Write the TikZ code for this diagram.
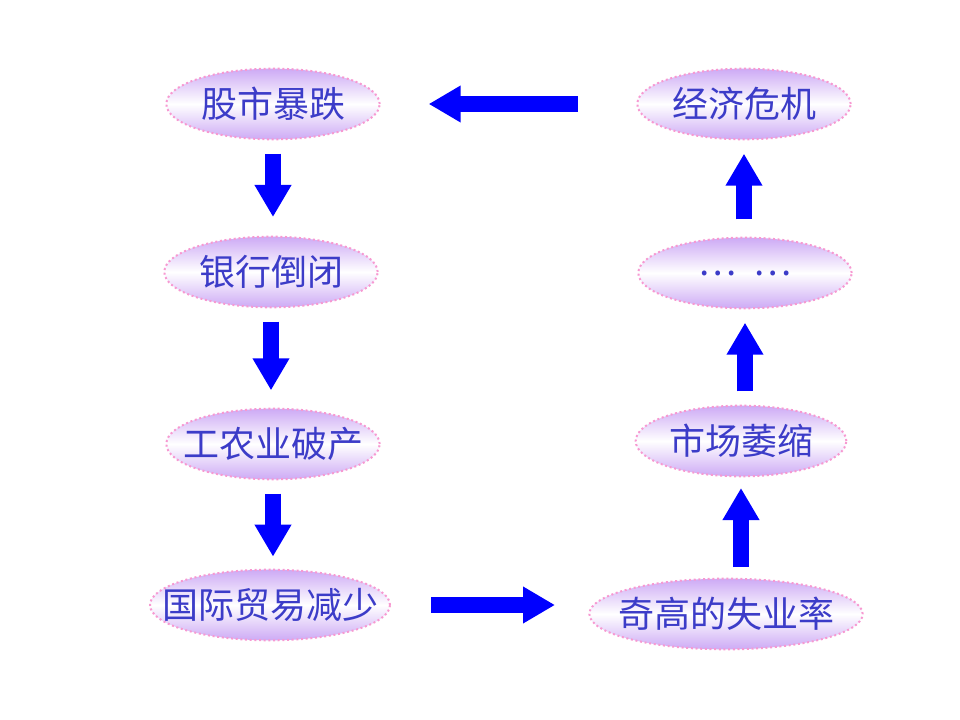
\documentclass[tikz,border=0pt]{standalone}
\usepackage{fontspec}
\newfontfamily\cjk{Noto Sans CJK SC}
\usetikzlibrary{shapes.geometric,arrows.meta}
\tikzset{every picture/.style={line width=0.75pt}}
\definecolor{bubtext}{RGB}{60,60,200}
\definecolor{bubfill}{RGB}{205,170,245}
\tikzset{
  bubble/.style={ellipse, draw=magenta!40, dotted, line width=1.5pt, top color=bubfill, bottom color=bubfill, middle color=white, minimum width=160pt, minimum height=53pt, inner ysep=0pt, inner xsep=-30pt, text=bubtext, font=\cjk\fontsize{27}{30}\selectfont},
  flow/.style={draw=blue, line width=12pt, -{Triangle[length=24pt,width=26pt]}}
}
\begin{document}
\begin{tikzpicture}[x=0.75pt,y=0.75pt,yscale=-1,xscale=1]
\useasboundingbox (0,0) rectangle (960,720);

% Text Node
\node [bubble] (gs) at (273,104) {股市暴跌};
% Text Node
\node [bubble] (yh) at (271,272) {银行倒闭};
% Text Node
\node [bubble] (gn) at (273,444) {工农业破产};
% Text Node
\node [bubble, minimum width=180pt] (gm) at (270,605) {国际贸易减少};
% Text Node
\node [bubble] (jj) at (744,104) {经济危机};
% Text Node
\node [bubble] (dd) at (745,273) {…\ \ …};
% Text Node
\node [bubble, minimum width=158pt] (sc) at (741,441) {市场萎缩};
% Text Node
\node [bubble, minimum width=205pt] (sy) at (726,614) {奇高的失业率};

% Connection
\draw [flow, shorten <=44pt, shorten >=36pt] (jj.west |- gs.east) -- (gs.east);
% Connection
\draw [flow, shorten <=10pt, shorten >=14pt] (gs.south) -- (gs.south |- yh.north);
% Connection
\draw [flow, shorten <=10pt, shorten >=13pt] (yh.south) -- (yh.south |- gn.north);
% Connection
\draw [flow, shorten <=10pt, shorten >=9pt] (gn.south) -- (gn.south |- gm.north);
% Connection
\draw [flow, shorten <=30pt, shorten >=25pt] (gm.east) -- (gm.east -| sy.west);
% Connection
\draw [flow, shorten <=8pt, shorten >=8pt] (sc.south |- sy.north) -- (sc.south);
% Connection
\draw [flow, shorten <=10pt, shorten >=10pt] (dd.south |- sc.north) -- (dd.south);
% Connection
\draw [flow, shorten <=13pt, shorten >=10pt] (jj.south |- dd.north) -- (jj.south);

\end{tikzpicture}
\end{document}
